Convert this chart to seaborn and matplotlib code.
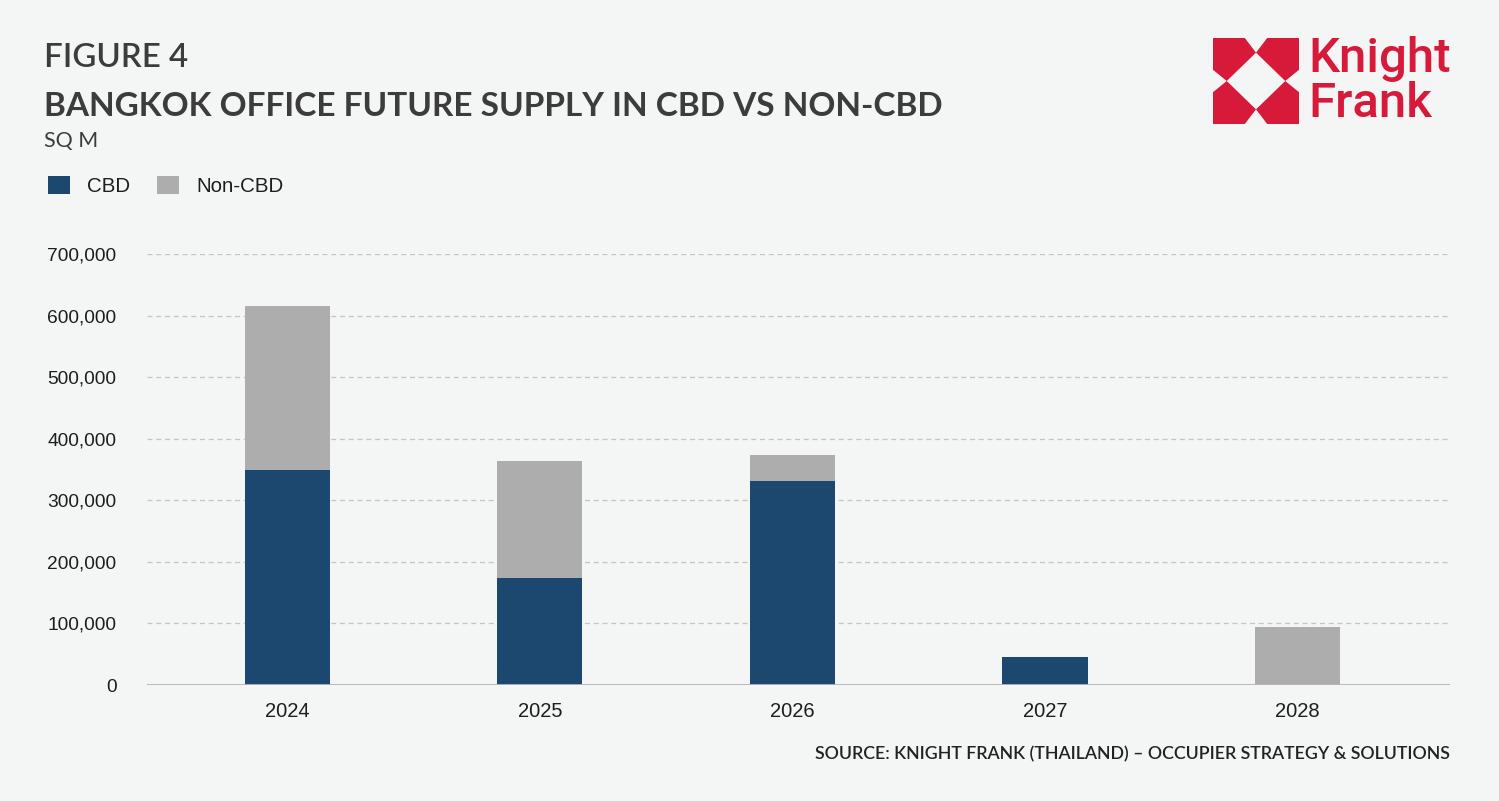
import numpy as np
import pandas as pd
import matplotlib
matplotlib.use("Agg")
import matplotlib.pyplot as plt
from matplotlib.patches import Patch, Polygon
from matplotlib.ticker import FuncFormatter
import seaborn as sns

# ---- data ----
years = ["2024", "2025", "2026", "2027", "2028"]
cbd = [350000, 174000, 331000, 46000, 0]
non_cbd = [265000, 190000, 42000, 0, 95000]
yticks = [0, 100000, 200000, 300000, 400000, 500000, 600000, 700000]

title_small = "FIGURE 4"
title_main = "BANGKOK OFFICE FUTURE SUPPLY IN CBD VS NON-CBD"
unit_label = "SQ M"
source_text = "SOURCE: KNIGHT FRANK (THAILAND) \u2013 OCCUPIER STRATEGY & SOLUTIONS"
series_names = ["CBD", "Non-CBD"]

# ---- style ----
BG = "#f4f6f6"
NAVY = "#1c476f"
GREY = "#adadad"
TXT = "#3c3c3c"
RED = "#d7193a"

sns.set_theme(style="white")
plt.rcParams["font.family"] = ["Liberation Sans", "DejaVu Sans"]

W, H = 1499, 801
fig = plt.figure(figsize=(W / 100, H / 100), dpi=100, facecolor=BG)
ax = fig.add_axes([147 / W, 1 - 685 / H, (1450 - 147) / W, (685 - 254) / H])
ax.set_facecolor(BG)

df = pd.DataFrame({"year": years, "cbd": cbd, "non": non_cbd})
df["total"] = df["cbd"] + df["non"]

bw = 0.337
sns.barplot(data=df, x="year", y="total", color=GREY, width=bw, errorbar=None,
            saturation=1, linewidth=0, ax=ax, zorder=3)
sns.barplot(data=df, x="year", y="cbd", color=NAVY, width=bw, errorbar=None,
            saturation=1, linewidth=0, ax=ax, zorder=3)

ax.set_xlim(-0.556, 4.604)
ax.set_ylim(0, 700000)
ax.set_yticks(yticks)
ax.yaxis.set_major_formatter(FuncFormatter(lambda v, p: f"{int(v):,}"))
ax.set_xlabel("")
ax.set_ylabel("")
for s in ["top", "right", "left", "bottom"]:
    ax.spines[s].set_visible(False)
for v in yticks[1:]:
    ax.axhline(v, color="#c4c4c4", lw=0.9, ls=(0, (4, 3)), zorder=1)
ax.axhline(0, color="#b5b5b5", lw=1.3, zorder=4)
ax.tick_params(axis="both", length=0, labelcolor="#1e1e1e")
ax.tick_params(axis="y", pad=22, labelsize=13.8)
ax.tick_params(axis="x", pad=12, labelsize=14.5)

# ---- titles ----
fig.text(44 / W, 1 - 58 / H, title_small, fontsize=23.8, color=TXT,
         family="Lato", fontweight="semibold", va="center", ha="left")
fig.text(44 / W, 1 - 106 / H, title_main, fontsize=24, color=TXT,
         family="Lato", fontweight="bold", va="center", ha="left")
fig.text(44 / W, 1 - 141 / H, unit_label, fontsize=15.5, color=TXT,
         family="Lato", va="center", ha="left")

# ---- legend ----
handles = [Patch(facecolor=NAVY, edgecolor="none"), Patch(facecolor=GREY, edgecolor="none")]
fig.legend(handles, series_names, loc="upper left", bbox_to_anchor=(48 / W, 1 - 176 / H),
           frameon=False, ncol=2, fontsize=14.8, handlelength=1.07, handleheight=0.97,
           handletextpad=0.85, columnspacing=1.3, borderpad=0, borderaxespad=0,
           labelcolor="#1e1e1e")

# ---- source ----
fig.text(1450 / W, 1 - 754 / H, source_text, fontsize=12.8, color="#222222",
         family="Lato", fontweight="semibold", ha="right", va="center")

# ---- logo ----
lax = fig.add_axes([1213 / W, 1 - 124 / H, 86 / W, 86 / H])
lax.set_xlim(0, 1)
lax.set_ylim(0, 1)
lax.axis("off")
a, b, c = 0.37, 0.5, 0.16
tl = [(0, 1), (a, 1), (b, 1 - 0.17), (c, b), (0, 1 - a)]
for sx, sy in [(1, 1), (-1, 1), (1, -1), (-1, -1)]:
    pts = [(0.5 + sx * (px - 0.5), 0.5 + sy * (py - 0.5)) for px, py in tl]
    lax.add_patch(Polygon(pts, closed=True, facecolor=RED, edgecolor="none"))

fig.text(1308 / W, 1 - 59 / H, "Knight", fontsize=35.5, color=RED, family="Roboto",
         fontweight="medium", ha="left", va="center")
fig.text(1308 / W, 1 - 104 / H, "Frank", fontsize=35.5, color=RED, family="Roboto",
         fontweight="medium", ha="left", va="center")

fig.savefig("out.png", dpi=100, facecolor=BG)
